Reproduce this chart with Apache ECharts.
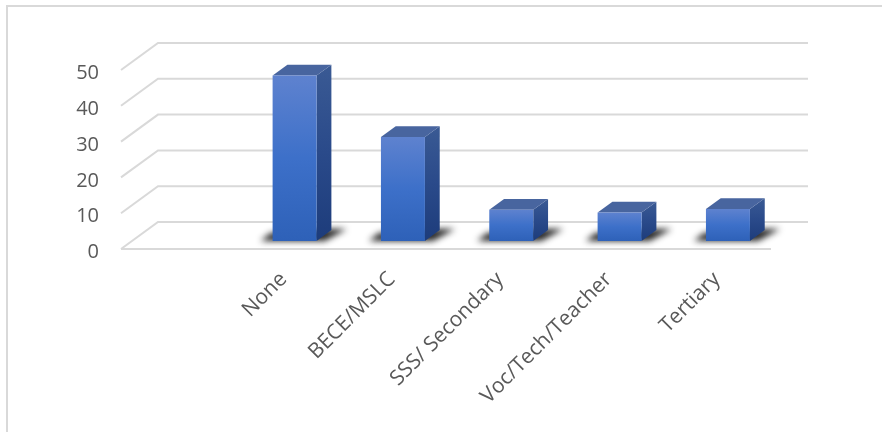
<!DOCTYPE html>
<html>
<head>
<meta charset="utf-8">
<style>html,body{margin:0;padding:0;background:#fff}#chart{width:882px;height:432px}</style>
<script src="https://cdn.jsdelivr.net/npm/echarts@6/dist/echarts.min.js"></script>
</head>
<body>
<div id="chart"></div>
<script>
// The first slot of the category axis stays empty, which pushes the columns to the right.
const categories = ['', 'None', 'BECE/MSLC', 'SSS/ Secondary', 'Voc/Tech/Teacher', 'Tertiary'];
const shares = [null, 46.2, 29, 8.7, 7.9, 8.9];
const gridValues = [0, 10, 20, 30, 40, 50];

// Pseudo-3D box: how far the floor recedes, and where the columns sit within that depth.
const DEPTH_X = 37, DEPTH_Y = -27;
const NEAR = 0.3, FAR = 0.7;
const WIDTH_RATIO = 0.406;
// The shadow caster sits off-canvas so that only its blurred shadow lands on the floor.
const CASTER_SHIFT = 2000;

const wallColor = '#d9d9d9';
const vgrad = (a, b, c) => ({
  type: 'linear', x: 0, y: 0, x2: 0, y2: 1,
  colorStops: [{offset: 0, color: a}, {offset: 0.5, color: b}, {offset: 1, color: c}]
});

function renderWall(params, api) {
  const v = api.value(0);
  const box = params.coordSys;
  const y = api.coord([0, v])[1];
  const x0 = box.x, x1 = box.x + box.width;
  const points = [[x0 + DEPTH_X, y + DEPTH_Y], [x1 + DEPTH_X, y + DEPTH_Y]];
  const children = [];
  const stroke = {fill: null, stroke: wallColor, lineWidth: 2};
  children.push({type: 'polyline', shape: {points: [[x0, y], points[0], points[1]]}, style: stroke});
  if (v === 0) {
    children.push({type: 'line', shape: {x1: x0, y1: y, x2: x1, y2: y}, style: stroke});
  }
  return {type: 'group', children};
}

// Soft cast shadow on the floor, visible either side of each column.
function renderShadow(params, api) {
  const base = api.coord([api.value(0), 0]);
  const w = api.size([1, 0])[0] * WIDTH_RATIO;
  const xl = base[0] + DEPTH_X * NEAR - w / 2 - CASTER_SHIFT;
  const xr = xl + w;
  const yb = base[1] + DEPTH_Y * NEAR;
  return {
    type: 'polygon',
    shape: {points: [[xl - 12, yb], [xl - 2, yb - 8], [xr + 14, yb - 12], [xr + 30, yb - 12], [xr + 8, yb]]},
    style: {
      fill: '#000',
      shadowBlur: 6, shadowColor: 'rgba(25,25,25,0.95)', shadowOffsetX: CASTER_SHIFT
    }
  };
}

function renderColumn(params, api) {
  const cat = api.value(0);
  const base = api.coord([cat, 0]);
  const top = api.coord([cat, api.value(1)]);
  const w = api.size([1, 0])[0] * WIDTH_RATIO;
  const xl = base[0] + DEPTH_X * NEAR - w / 2;
  const xr = xl + w;
  const yb = base[1] + DEPTH_Y * NEAR;
  const yt = top[1] + DEPTH_Y * NEAR;
  const dx = DEPTH_X * (FAR - NEAR), dy = DEPTH_Y * (FAR - NEAR);
  return {
    type: 'group',
    children: [
      {type: 'polygon',
       shape: {points: [[xr, yt], [xr + dx, yt + dy], [xr + dx, yb + dy], [xr, yb]]},
       style: {fill: vgrad('#3a5a94', '#2a4a8a', '#1d3c7b')}},
      {type: 'polygon',
       shape: {points: [[xl, yt], [xl + dx, yt + dy], [xr + dx, yt + dy], [xr, yt]]},
       style: {fill: '#48659f'}},
      {type: 'rect',
       shape: {x: xl, y: yt, width: w, height: yb - yt},
       style: {fill: vgrad('#5e82cf', '#3d70c9', '#2e61b8')}}
    ]
  };
}

const columnData = shares
  .map((v, i) => [i, v])
  .filter(d => d[1] !== null);

const chart = echarts.init(document.getElementById('chart'), null, {renderer: 'canvas'});
chart.setOption({
  animation: false,
  backgroundColor: '#fff',
  graphic: [{
    type: 'rect', silent: true, z: 0,
    shape: {x: 7, y: 6, width: 900, height: 460},
    style: {fill: null, stroke: wallColor, lineWidth: 2}
  }],
  grid: {left: 121, right: 111, top: 70, bottom: 183},
  xAxis: {
    type: 'category', data: categories,
    axisLine: {show: false}, axisTick: {show: false},
    axisLabel: {
      interval: 0, rotate: 45, margin: 27,
      color: '#595959', fontFamily: 'Open Sans', fontSize: 21
    }
  },
  yAxis: {
    type: 'value', min: 0, max: 50, interval: 10,
    axisLine: {show: false}, axisTick: {show: false}, splitLine: {show: false},
    axisLabel: {margin: 22, verticalAlign: 'top', lineHeight: 7, color: '#595959', fontFamily: 'Open Sans', fontSize: 20}
  },
  series: [
    {type: 'custom', renderItem: renderWall, data: gridValues.map(v => [v]),
     encode: {y: 0}, z: 1, silent: true, clip: false},
    {type: 'custom', renderItem: renderShadow, data: columnData,
     encode: {x: 0, y: 1}, z: 2, silent: true, clip: false},
    {type: 'custom', renderItem: renderColumn, data: columnData,
     encode: {x: 0, y: 1}, z: 3, silent: true, clip: false}
  ]
});
</script>
</body>
</html>
